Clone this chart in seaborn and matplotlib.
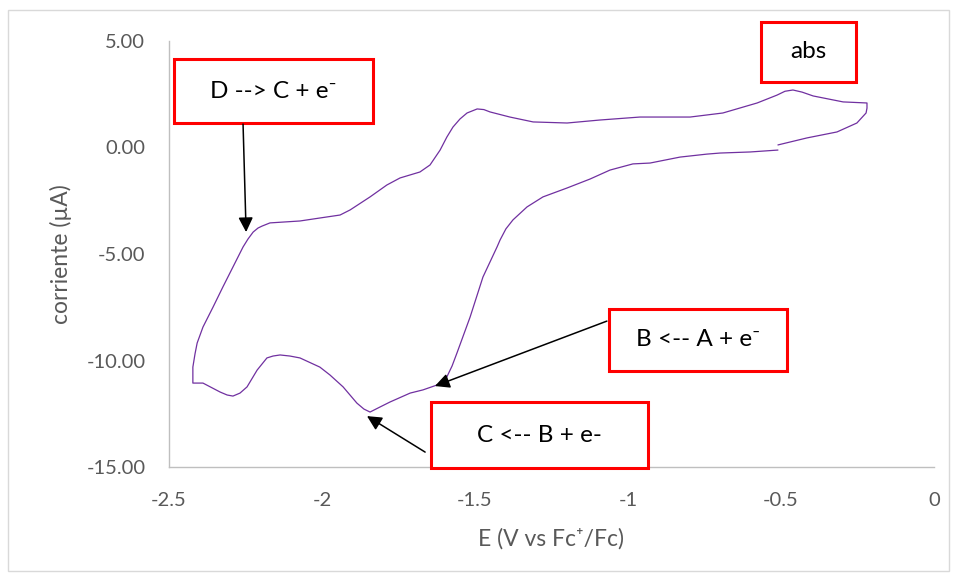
import matplotlib
matplotlib.use("Agg")
import matplotlib.pyplot as plt
from matplotlib.patches import Rectangle
import numpy as np
import pandas as pd
import seaborn as sns

# Cyclic voltammogram, scan order: start at -0.51 V, sweep negative to -2.42 V,
# back positive to -0.22 V, then negative again to -0.51 V.
potential_V = [
    -0.510, -0.601, -0.699, -0.742, -0.830, -0.928, -0.984, -1.059, -1.124, -1.199,
    -1.278, -1.330, -1.376, -1.399, -1.418, -1.428, -1.474, -1.516, -1.559, -1.575,
    -1.592, -1.608, -1.624, -1.670, -1.712, -1.778, -1.810, -1.843, -1.863, -1.886,
    -1.931, -1.974, -2.007, -2.072, -2.105, -2.137, -2.160, -2.180, -2.212, -2.245,
    -2.268, -2.291, -2.310, -2.333, -2.389, -2.422,
    -2.422, -2.415, -2.408, -2.389, -2.356, -2.324, -2.291, -2.258, -2.242, -2.225,
    -2.209, -2.196, -2.170, -2.072, -2.007, -1.941, -1.908, -1.843, -1.788, -1.745,
    -1.680, -1.647, -1.614, -1.592, -1.572, -1.549, -1.526, -1.493, -1.471, -1.451,
    -1.386, -1.310, -1.199, -1.092, -0.961, -0.797, -0.690, -0.578, -0.513, -0.487,
    -0.461, -0.431, -0.395, -0.297, -0.219, -0.219, -0.222, -0.252, -0.317, -0.415,
    -0.510,
]
current_uA = [
    -0.12, -0.21, -0.26, -0.31, -0.45, -0.73, -0.77, -1.06, -1.48, -1.90,
    -2.32, -2.79, -3.40, -3.82, -4.34, -4.67, -6.08, -7.96, -9.65, -10.26,
    -10.77, -11.01, -11.15, -11.38, -11.53, -11.95, -12.18, -12.42, -12.28, -12.00,
    -11.24, -10.68, -10.31, -9.88, -9.79, -9.74, -9.79, -9.88, -10.45, -11.24,
    -11.53, -11.67, -11.62, -11.48, -11.06, -11.06,
    -10.31, -9.69, -9.18, -8.43, -7.49, -6.55, -5.61, -4.67, -4.30, -3.97,
    -3.78, -3.69, -3.54, -3.45, -3.31, -3.17, -2.93, -2.32, -1.76, -1.43,
    -1.15, -0.82, -0.12, 0.49, 0.96, 1.34, 1.62, 1.81, 1.78, 1.67,
    1.43, 1.20, 1.15, 1.29, 1.43, 1.43, 1.62, 2.09, 2.46, 2.64,
    2.70, 2.60, 2.42, 2.14, 2.09, 1.85, 1.62, 1.15, 0.73, 0.45,
    0.12,
]
x_ticks = [-2.5, -2.0, -1.5, -1.0, -0.5, 0.0]
x_tick_labels = ["-2.5", "-2", "-1.5", "-1", "-0.5", "0"]
y_ticks = [-15, -10, -5, 0, 5]
y_tick_labels = ["-15.00", "-10.00", "-5.00", "0.00", "5.00"]

df = pd.DataFrame({"E": potential_V, "I": current_uA, "step": np.arange(len(potential_V))})

sns.set_style("white")
plt.rcParams["font.family"] = ["Lato", "DejaVu Sans"]

W, H = 956, 576
fig = plt.figure(figsize=(W / 100, H / 100), dpi=100)
ax = fig.add_axes([169 / W, 1 - 467 / H, (934 - 169) / W, (467 - 41) / H])

sns.lineplot(data=df, x="E", y="I", sort=False, estimator=None,
             color="#7030A0", linewidth=0.9, ax=ax)

ax.set_xlim(-2.5, 0)
ax.set_ylim(-15, 5)
ax.set_xticks(x_ticks)
ax.set_xticklabels(x_tick_labels)
ax.set_yticks(y_ticks)
ax.set_yticklabels(y_tick_labels)
ax.tick_params(axis="both", length=0, labelsize=14.5, labelcolor="#595959")
ax.tick_params(axis="y", pad=17)
ax.tick_params(axis="x", pad=18)

for side in ("top", "right"):
    ax.spines[side].set_visible(False)
for side in ("left", "bottom"):
    ax.spines[side].set_color("#BFBFBF")
    ax.spines[side].set_linewidth(1.0)

ax.set_xlabel("E (V vs Fc\u207a/Fc)", fontsize=16.5, color="#595959", labelpad=14)
ax.set_ylabel("corriente (\u00b5A)", fontsize=16.5, color="#595959", labelpad=10)

# Reaction labels in red boxes
boxes = [
    ("D --> C + e\u207b", (-2.484, 1.15), (-1.833, 4.15)),
    ("abs", (-0.565, 3.08), (-0.255, 5.89)),
    ("B <-- A + e\u207b", (-1.062, -10.49), (-0.480, -7.58)),
    ("C <-- B + e-", (-1.644, -15.05), (-0.935, -11.95)),
]
for label, (x0, y0), (x1, y1) in boxes:
    ax.add_patch(Rectangle((x0, y0), x1 - x0, y1 - y0, facecolor="white",
                           edgecolor="#FF0000", linewidth=2.2, clip_on=False, zorder=5))
    ax.text((x0 + x1) / 2, (y0 + y1) / 2, label, ha="center", va="center",
            fontsize=17.5, color="black", zorder=6, clip_on=False)

arrows = [
    ((-2.248, -3.97), (-2.258, 1.10)),
    ((-1.631, -11.20), (-1.069, -8.15)),
    ((-1.853, -12.61), (-1.663, -14.30)),
]
for tip, tail in arrows:
    ax.annotate("", xy=tip, xytext=tail,
                arrowprops=dict(arrowstyle="-|>", color="black", lw=1.1,
                                mutation_scale=22, shrinkA=0, shrinkB=0),
                zorder=7, annotation_clip=False)

# Chart-area frame
fig.add_artist(Rectangle((8 / W, 1 - 571 / H), (949 - 8) / W, (571 - 10) / H,
                         transform=fig.transFigure, fill=False,
                         edgecolor="#D9D9D9", linewidth=1.0))

fig.savefig("out.png", dpi=100, facecolor="white")
